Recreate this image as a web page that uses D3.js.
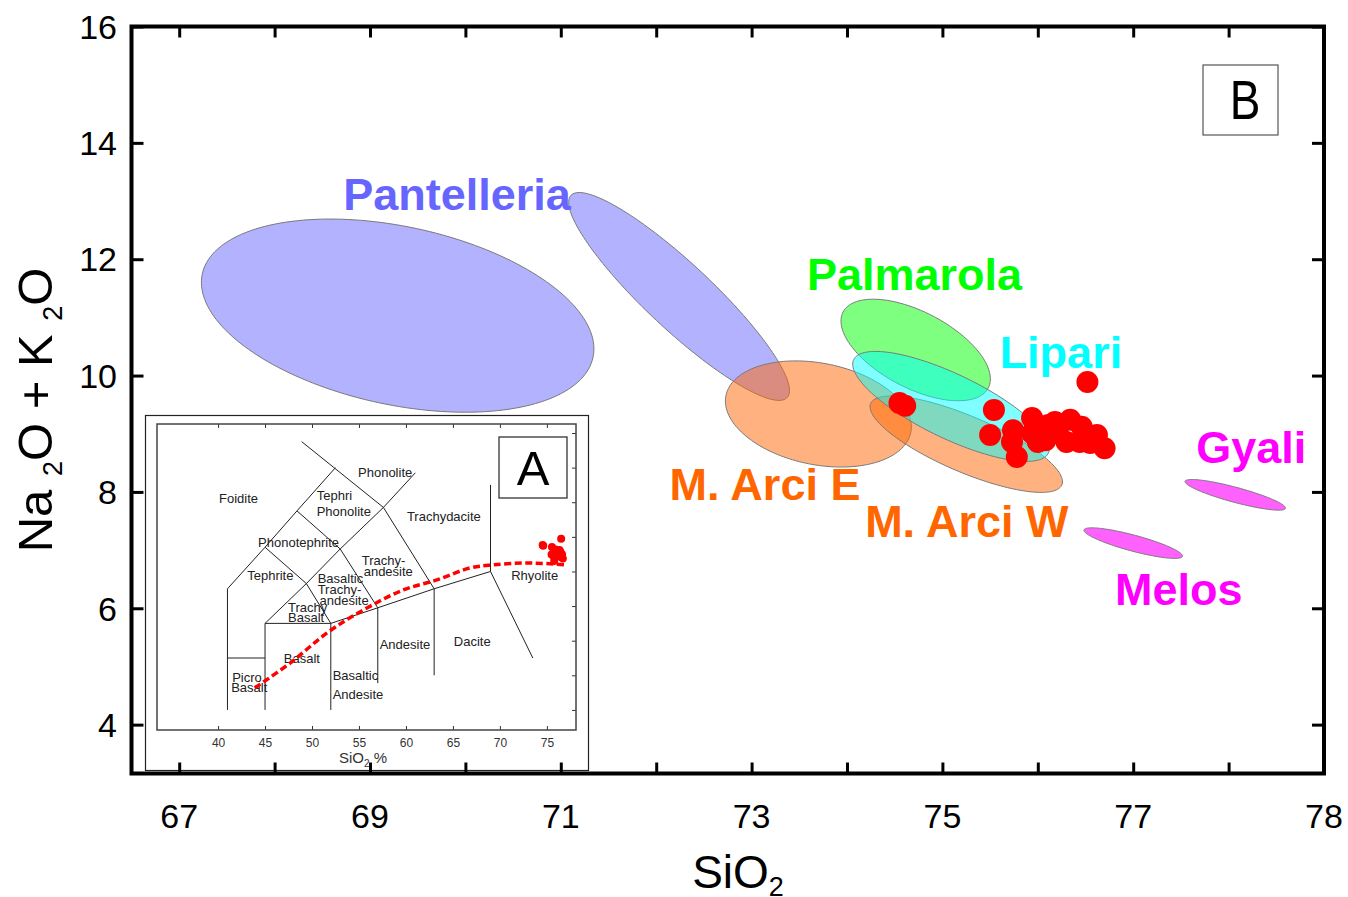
<!DOCTYPE html>
<html><head><meta charset="utf-8">
<script src="https://cdn.jsdelivr.net/npm/d3@7"></script>
<style>
body{margin:0;background:#fff}
svg{display:block}
text{font-family:"Liberation Sans",Arial,Helvetica,sans-serif}
</style>
</head><body>
<svg id="c" width="1348" height="897"></svg>
<script>
// ---------------- DATA ----------------
// main axis ticks (the last label in the original reads "78")
const xTickValues = [67, 69, 71, 73, 75, 77, 79];
const xTickLabels = ["67", "69", "71", "73", "75", "77", "78"];
const yTickValues = [4, 6, 8, 10, 12, 14, 16];

// compositional fields: centre (SiO2, Na2O+K2O) and two conjugate half-axis vectors (data units)
const fieldNames   = ["Pantelleria", "Pantelleria", "M. Arci E", "M. Arci W", "Palmarola", "Lipari", "Gyali", "Melos"];
const fieldCenters = [[69.29, 11.03], [72.24, 11.36], [73.70, 9.34], [75.25, 8.82], [74.72, 10.44], [75.09, 9.47], [78.07, 7.95], [77.00, 7.12]];
const fieldMajor   = [[2.048, -0.716], [1.133, -1.738], [0.969, -0.315], [1.002, -0.699], [0.761, -0.652], [1.020, -0.804], [0.526, -0.232], [0.516, -0.227]];
const fieldMinor   = [[-0.194, -1.498], [-0.236, -0.415], [-0.103, -0.856], [-0.114, -0.444], [-0.184, -0.580], [-0.145, -0.497], [-0.020, -0.125], [-0.022, -0.133]];

// field labels: text and anchor (left, baseline) in data units
const labelTexts = ["Pantelleria", "Palmarola", "Lipari", "M. Arci E", "M. Arci W", "Gyali", "Melos"];
const labelPos   = [[68.72, 12.85], [73.58, 11.47], [75.60, 10.13], [72.14, 7.86], [74.19, 7.22], [77.66, 8.50], [76.81, 6.06]];

// obsidian samples (SiO2, Na2O+K2O)
const sampleSiO2   = [74.55, 74.61, 75.54, 75.50, 75.74, 75.78, 75.73, 75.94, 76.00, 76.11, 76.21, 76.34, 76.30, 76.46, 76.44, 76.62, 76.70, 76.52, 75.94, 76.08, 76.55, 76.18];
const sampleAlkali = [9.53, 9.48, 9.41, 8.98, 9.06, 8.60, 8.86, 9.27, 8.86, 9.15, 9.01, 9.24, 8.86, 9.12, 8.86, 8.98, 8.75, 9.89, 9.01, 8.89, 8.84, 9.20];

// inset TAS diagram
const insetXTicks = [40, 45, 50, 55, 60, 65, 70, 75];
const insetYTicks = [0, 2, 4, 6, 8, 10, 12, 14, 16];
const tasLines = [
  [[41, 0], [41, 7]],
  [[41, 3], [45, 3]],
  [[45, 0], [45, 5]],
  [[52, 0], [52, 5]],
  [[57, 1.55], [57, 5.9]],
  [[63, 2.0], [63, 7]],
  [[45, 5], [52, 5]],
  [[52, 5], [57, 5.9], [63, 7], [69, 8]],
  [[69, 8], [69, 13]],
  [[69, 8], [73.5, 3.0]],
  [[45, 5], [49.4, 7.3], [52, 5]],
  [[41, 7], [45, 9.4], [48.4, 11.5], [52.5, 14]],
  [[45, 9.4], [49.4, 7.3], [53, 9.3], [48.4, 11.5]],
  [[53, 9.3], [57, 5.9]],
  [[53, 9.3], [57.6, 11.7], [63, 7]],
  [[48.9, 15.5], [57.6, 11.7]],
  [[57.6, 11.7], [61, 13.7]]
];
const tasLabelTexts = ["Foidite", "Phonolite", "Tephri", "Phonolite", "Trachydacite", "Phonotephrite", "Trachy-", "andesite",
  "Tephrite", "Basaltic", "Trachy-", "andesite", "Trachy", "Basalt", "Basalt", "Picro", "Basalt", "Basaltic", "Andesite",
  "Andesite", "Dacite", "Rhyolite"];
const tasLabelPos = [[40.1, 11.96], [54.9, 13.46], [50.5, 12.13], [50.5, 11.21], [60.1, 10.92], [44.26, 9.42], [55.3, 8.38], [55.5, 7.74],
  [43.1, 7.51], [50.6, 7.34], [50.6, 6.70], [50.8, 6.07], [47.45, 5.66], [47.45, 5.08], [47.0, 2.72], [41.5, 1.62], [41.4, 1.04], [52.2, 1.73], [52.2, 0.64],
  [57.2, 3.52], [65.1, 3.70], [71.2, 7.51]];
const trendSiO2   = [43.9, 47.7, 51.6, 55.1, 59.7, 63.3, 66.8, 69.3, 72.9, 77.1];
const trendAlkali = [1.27, 2.72, 4.45, 5.66, 6.93, 7.51, 8.20, 8.38, 8.49, 8.38];

// ---------------- STYLES ----------------
const fieldFill = {"Pantelleria": "#6666ff", "M. Arci E": "#ff6600", "M. Arci W": "#ff6600", "Palmarola": "#00ff00", "Lipari": "#00ffff", "Gyali": "#ff00ff", "Melos": "#ff00ff"};
const fieldOpacity = {"Pantelleria": 0.5, "M. Arci E": 0.5, "M. Arci W": 0.5, "Palmarola": 0.5, "Lipari": 0.5, "Gyali": 0.62, "Melos": 0.62};
const labelColor = {"Pantelleria": "#6666ff", "Palmarola": "#00ff00", "Lipari": "#00ffff", "M. Arci E": "#ff6600", "M. Arci W": "#ff6600", "Gyali": "#ff00ff", "Melos": "#ff00ff"};

// ---------------- DRAW ----------------
const svg = d3.select("#c");
const x = d3.scaleLinear().domain([66.5, 79]).range([131.5, 1324]);
const y = d3.scaleLinear().domain([3.16, 16]).range([773.5, 26.5]);

// fields
const angles = d3.range(0, 360, 2).map(a => a * Math.PI / 180);
const closed = d3.line().curve(d3.curveLinearClosed);
fieldNames.forEach((name, i) => {
  const c = fieldCenters[i], u = fieldMajor[i], v = fieldMinor[i];
  const pts = angles.map(t => [
    x(c[0] + Math.cos(t) * u[0] + Math.sin(t) * v[0]),
    y(c[1] + Math.cos(t) * u[1] + Math.sin(t) * v[1])
  ]);
  svg.append("path").attr("d", closed(pts))
    .attr("fill", fieldFill[name]).attr("fill-opacity", fieldOpacity[name])
    .attr("stroke", "#7a7a7a").attr("stroke-width", 1);
});

// field labels
labelTexts.forEach((t, i) => {
  svg.append("text").attr("x", x(labelPos[i][0])).attr("y", y(labelPos[i][1]))
    .attr("font-size", 45).attr("font-weight", "bold").attr("fill", labelColor[t]).text(t);
});

// samples
svg.append("g").selectAll("circle").data(sampleSiO2).join("circle")
  .attr("cx", (d) => x(d)).attr("cy", (d, i) => y(sampleAlkali[i])).attr("r", 11).attr("fill", "#ff0000");

// ---------------- INSET ----------------
const inset = svg.append("g");
inset.append("rect").attr("x", 145.5).attr("y", 415.5).attr("width", 443).attr("height", 355)
  .attr("fill", "#fff").attr("stroke", "#222").attr("stroke-width", 1.2);
const ix = d3.scaleLinear().domain([33.5, 78.1]).range([157, 576]);
const iy = d3.scaleLinear().domain([-1.16, 16.52]).range([730, 424]);

const tline = d3.line().x(d => ix(d[0])).y(d => iy(d[1]));
tasLines.forEach(l => inset.append("path").attr("d", tline(l)).attr("fill", "none").attr("stroke", "#222").attr("stroke-width", 1));

tasLabelTexts.forEach((t, i) => {
  inset.append("text").attr("x", ix(tasLabelPos[i][0])).attr("y", iy(tasLabelPos[i][1]))
    .attr("font-size", 13).attr("fill", "#222").text(t);
});

// inset ticks
const ib = inset.append("g").attr("transform", "translate(0,730)")
  .call(d3.axisBottom(ix).tickValues(insetXTicks).tickSize(-4).tickPadding(8).tickFormat(d3.format("d")));
const it = inset.append("g").attr("transform", "translate(0,424)")
  .call(d3.axisTop(ix).tickValues(insetXTicks).tickSize(-4).tickFormat(""));
const ir = inset.append("g").attr("transform", "translate(576,0)")
  .call(d3.axisRight(iy).tickValues(insetYTicks).tickSize(-4).tickFormat(""));
[ib, it, ir].forEach(g => { g.select(".domain").remove(); g.selectAll("line").attr("stroke", "#333"); });
ib.selectAll("text").attr("font-size", 12).attr("fill", "#333").attr("font-family", "Liberation Sans, Arial, sans-serif");

inset.append("rect").attr("x", 157).attr("y", 424).attr("width", 419).attr("height", 306)
  .attr("fill", "none").attr("stroke", "#444").attr("stroke-width", 1.5);

const il = inset.append("text").attr("x", 363).attr("y", 763).attr("text-anchor", "middle").attr("font-size", 15).attr("fill", "#333");
il.append("tspan").text("SiO");
il.append("tspan").attr("font-size", 10).attr("dy", 4).text("2");
il.append("tspan").attr("dy", -4).text(" %");

// trend
inset.append("path")
  .attr("d", d3.line().x(d => ix(d)).y((d, i) => iy(trendAlkali[i])).curve(d3.curveCatmullRom)(trendSiO2))
  .attr("fill", "none").attr("stroke", "#ff0000").attr("stroke-width", 3.5).attr("stroke-dasharray", "7,3.5");
inset.append("g").selectAll("circle").data(sampleSiO2).join("circle")
  .attr("cx", d => ix(d)).attr("cy", (d, i) => iy(sampleAlkali[i])).attr("r", 4).attr("fill", "#ff0000");

// A box
inset.append("rect").attr("x", 499).attr("y", 437).attr("width", 68).attr("height", 61)
  .attr("fill", "#fff").attr("stroke", "#333").attr("stroke-width", 1.3);
inset.append("text").attr("x", 533).attr("y", 485).attr("text-anchor", "middle").attr("font-size", 49).text("A");

// ---------------- MAIN FRAME & AXES ----------------
const gb = svg.append("g").attr("transform", "translate(0,773.5)")
  .call(d3.axisBottom(x).tickValues(d3.range(67, 80)).tickSize(-11).tickFormat(""));
const gt = svg.append("g").attr("transform", "translate(0,26.5)")
  .call(d3.axisTop(x).tickValues(d3.range(67, 80)).tickSize(-11).tickFormat(""));
const gl = svg.append("g").attr("transform", "translate(131.5,0)")
  .call(d3.axisLeft(y).tickValues(yTickValues).tickSize(-12).tickFormat(""));
const gr = svg.append("g").attr("transform", "translate(1324,0)")
  .call(d3.axisRight(y).tickValues(yTickValues).tickSize(-12).tickFormat(""));
[gb, gt, gl, gr].forEach(g => { g.select(".domain").remove(); g.selectAll("line").attr("stroke", "#000").attr("stroke-width", 3); });

svg.append("rect").attr("x", 131.5).attr("y", 26.5).attr("width", 1192.5).attr("height", 747)
  .attr("fill", "none").attr("stroke", "#000").attr("stroke-width", 4);

xTickValues.forEach((v, i) => {
  svg.append("text").attr("x", x(v)).attr("y", 828).attr("text-anchor", "middle").attr("font-size", 34).text(xTickLabels[i]);
});
yTickValues.forEach(v => {
  svg.append("text").attr("x", 117).attr("y", y(v)).attr("dy", "0.36em").attr("text-anchor", "end").attr("font-size", 34).text(v);
});

// axis titles
const xt = svg.append("text").attr("x", 738).attr("y", 888).attr("text-anchor", "middle").attr("font-size", 46);
xt.append("tspan").text("SiO");
xt.append("tspan").attr("font-size", 27).attr("dy", 8).text("2");

const yt = svg.append("text").attr("transform", "translate(52,410) rotate(-90)").attr("text-anchor", "middle").attr("font-size", 49);
yt.append("tspan").text("Na ");
yt.append("tspan").attr("font-size", 27).attr("dy", 10).text("2");
yt.append("tspan").attr("dy", -10).text("O + K ");
yt.append("tspan").attr("font-size", 27).attr("dy", 10).text("2");
yt.append("tspan").attr("dy", -10).text("O");

// B box
svg.append("rect").attr("x", 1203).attr("y", 65).attr("width", 75).attr("height", 70)
  .attr("fill", "#fff").attr("stroke", "#555").attr("stroke-width", 1.2);
svg.append("text").attr("transform", "translate(1245,119) scale(0.82,1)").attr("text-anchor", "middle").attr("font-size", 56).text("B");
</script>
</body></html>
